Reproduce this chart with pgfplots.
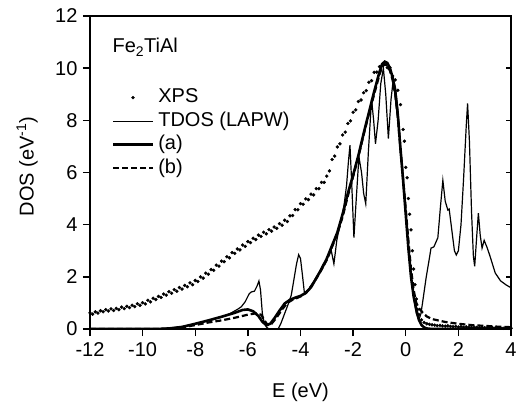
\documentclass[border=0pt]{standalone}
\usepackage{pgfplots}
\pgfplotsset{compat=1.18}
\usepackage{fontspec}
\setmainfont{Liberation Sans}
\begin{document}
\begin{tikzpicture}[font=\fontsize{20}{24}\selectfont]
\begin{axis}[
  at={(0pt,0pt)}, anchor=south west,
  width=421pt, height=313pt, scale only axis,
  xmin=-12, xmax=4, ymin=0, ymax=12,
  xtick={-12,-10,...,4}, ytick={0,2,...,12},
  xtick pos=bottom, ytick pos=left,
  tick align=outside, major tick length=7pt,
  tick style={line width=1.4pt, black},
  axis line style={line width=1.6pt},
  /pgf/number format/assume math mode=true,
  xticklabel style={yshift=-3pt},
  yticklabel style={xshift=-2pt},
  xlabel={E (eV)}, ylabel={DOS (eV\textsuperscript{-1})},
  xlabel style={at={(axis description cs:0.5,-0.218)}, anchor=base},
  ylabel style={at={(axis description cs:-0.134,0.52)}, anchor=base},
  legend image code/.code={\draw[mark repeat=2,mark phase=2,#1] plot coordinates {(0pt,0pt) (20pt,0pt) (40pt,0pt)};},
  legend style={draw=none, fill=none, at={(axis description cs:0.044,0.775)}, anchor=north west,
    nodes={inner sep=0pt, text height=14pt, text depth=4pt, anchor=west}, row sep=5.5pt,
    /tikz/every odd column/.append style={column sep=4pt}},
  legend cell align=left,
  clip=true,
]
% XPS
\addplot[only marks, mark=*, mark size=1.5pt, black] coordinates {
(-12.0,0.62)(-11.9,0.57)(-11.8,0.66)(-11.7,0.61)(-11.6,0.70)(-11.5,0.66)(-11.4,0.74)(-11.3,0.69)(-11.2,0.77)(-11.1,0.71)
(-11.0,0.79)(-10.9,0.74)(-10.8,0.84)(-10.7,0.78)(-10.6,0.87)(-10.5,0.82)(-10.4,0.91)(-10.3,0.86)(-10.2,0.97)(-10.1,0.91)
(-10.0,1.01)(-9.9,0.96)(-9.8,1.10)(-9.7,1.04)(-9.6,1.18)(-9.5,1.13)(-9.4,1.25)(-9.3,1.21)(-9.2,1.34)(-9.1,1.30)
(-9.0,1.43)(-8.9,1.37)(-8.8,1.51)(-8.7,1.45)(-8.6,1.59)(-8.5,1.53)(-8.4,1.67)(-8.3,1.62)(-8.2,1.77)(-8.1,1.70)
(-8.0,1.86)(-7.9,1.82)(-7.8,2.00)(-7.7,1.95)(-7.6,2.14)(-7.5,2.10)(-7.4,2.28)(-7.3,2.25)(-7.2,2.45)(-7.1,2.41)
(-7.0,2.60)(-6.9,2.58)(-6.8,2.77)(-6.7,2.73)(-6.6,2.93)(-6.5,2.90)(-6.4,3.07)(-6.3,3.03)(-6.2,3.22)(-6.1,3.17)
(-6.0,3.35)(-5.9,3.31)(-5.8,3.48)(-5.7,3.43)(-5.6,3.60)(-5.5,3.55)(-5.4,3.71)(-5.3,3.65)(-5.2,3.81)(-5.1,3.75)
(-5.0,3.91)(-4.9,3.86)(-4.8,4.04)(-4.7,3.98)(-4.6,4.17)(-4.5,4.12)(-4.4,4.34)(-4.3,4.35)(-4.2,4.58)(-4.1,4.57)
(-4.0,4.81)(-3.9,4.78)(-3.8,4.99)(-3.7,4.96)(-3.6,5.17)(-3.5,5.14)(-3.4,5.38)(-3.3,5.38)(-3.2,5.62)(-3.1,5.62)
(-3.0,5.86)(-2.9,6.06)(-2.8,6.50)(-2.7,6.63)(-2.6,6.98)(-2.5,7.10)(-2.4,7.44)(-2.3,7.55)(-2.2,7.88)(-2.1,7.98)
(-2.0,8.31)(-1.9,8.40)(-1.8,8.72)(-1.7,8.78)(-1.6,9.06)(-1.5,9.14)(-1.4,9.46)(-1.3,9.52)(-1.2,9.84)(-1.1,9.85)
(-1.0,10.06)(-0.9,10.10)(-0.8,10.21)(-0.7,10.02)(-0.6,10.02)(-0.5,9.70)(-0.4,9.55)(-0.3,9.15)(-0.2,8.60)(-0.1,7.65)
(-0.05,7.2)(0.0,6.20)(0.05,5.8)(0.1,5.0)(0.15,4.4)(0.2,3.8)(0.25,3.0)(0.3,2.3)(0.35,1.7)(0.4,1.15)
(0.45,0.75)(0.5,0.55)(0.6,0.35)(0.7,0.25)(0.8,0.2)(0.9,0.18)(1.0,0.16)(1.1,0.15)(1.2,0.13)(1.3,0.14)
(1.4,0.12)(1.5,0.11)(1.6,0.12)(1.7,0.10)(1.8,0.09)(1.9,0.10)(2.0,0.08)(2.1,0.09)(2.2,0.07)(2.3,0.08)
(2.4,0.07)(2.5,0.06)(2.6,0.07)(2.7,0.06)(2.8,0.05)(2.9,0.06)(3.0,0.05)(3.1,0.05)(3.2,0.04)(3.3,0.05)
(3.4,0.04)(3.5,0.04)(3.6,0.04)(3.7,0.03)(3.8,0.04)(3.9,0.03)(4.0,0.03)
};
\addlegendentry{XPS}
% TDOS (LAPW)
\addplot[black, line width=1.2pt] coordinates {
(-12,0)(-9.3,0)(-9,0.02)(-8.5,0.08)(-8,0.2)(-7.5,0.32)(-7,0.45)(-6.7,0.58)(-6.4,0.75)(-6.25,0.85)
(-6.1,1.05)(-5.95,1.35)(-5.87,1.42)(-5.75,1.45)(-5.65,1.65)(-5.58,1.84)(-5.52,1.5)(-5.45,0.6)(-5.38,0.25)(-5.3,0.08)
(-5.2,0.0)(-4.85,0.0)(-4.75,0.2)(-4.6,0.6)(-4.45,1.0)(-4.35,1.3)(-4.25,1.9)(-4.15,2.5)(-4.07,2.85)(-4.0,2.7)
(-3.93,2.1)(-3.85,1.37)(-3.75,1.45)(-3.6,1.65)(-3.45,1.9)(-3.3,2.15)(-3.15,2.45)(-3.0,2.7)(-2.85,3.1)(-2.73,2.5)
(-2.62,3.4)(-2.5,4.0)(-2.35,4.7)(-2.25,5.5)(-2.18,6.4)(-2.12,7.05)(-2.05,5.5)(-1.97,3.5)(-1.88,5.0)(-1.78,6.6)
(-1.68,6.0)(-1.6,5.2)(-1.52,4.8)(-1.42,6.8)(-1.3,8.8)(-1.22,8.0)(-1.15,7.1)(-1.05,8.0)(-0.95,9.4)(-0.85,10.0)
(-0.76,9.0)(-0.66,7.3)(-0.56,8.8)(-0.47,9.6)(-0.38,9.2)(-0.3,8.4)(-0.2,6.9)(-0.1,5.7)(0.0,4.4)(0.1,3.1)
(0.2,2.0)(0.3,1.2)(0.4,0.6)(0.5,0.35)(0.58,0.6)(0.68,1.3)(0.78,2.0)(0.88,2.6)(0.96,3.1)(1.07,3.15)
(1.22,3.5)(1.32,4.7)(1.41,5.7)(1.5,4.9)(1.6,4.56)(1.65,4.6)(1.75,3.8)(1.85,3.0)(1.92,2.84)(2.0,3.0)
(2.1,4.0)(2.2,5.8)(2.3,7.8)(2.35,8.65)(2.42,7.2)(2.5,4.5)(2.57,2.8)(2.62,2.4)(2.7,3.6)(2.76,4.44)
(2.83,3.6)(2.9,3.1)(2.98,3.4)(3.1,3.1)(3.2,2.8)(3.4,2.15)(3.6,1.85)(3.8,1.7)(4.0,1.58)
};
\addlegendentry{TDOS (LAPW)}
% (a)
\addplot[black, line width=2.6pt] coordinates {
(-12,0)(-9.5,0)(-9,0.02)(-8.5,0.08)(-8,0.2)(-7.5,0.33)(-7,0.47)(-6.5,0.62)(-6.2,0.73)(-6.0,0.75)
(-5.8,0.68)(-5.6,0.5)(-5.45,0.28)(-5.3,0.15)(-5.15,0.2)(-5.0,0.4)(-4.8,0.7)(-4.6,0.98)(-4.4,1.12)(-4.2,1.2)
(-4.0,1.27)(-3.8,1.38)(-3.6,1.6)(-3.4,1.95)(-3.2,2.3)(-3.0,2.7)(-2.8,3.2)(-2.6,3.7)(-2.4,4.4)(-2.2,5.2)
(-2.0,5.9)(-1.8,6.65)(-1.6,7.5)(-1.4,8.3)(-1.2,9.1)(-1.0,9.85)(-0.9,10.15)(-0.8,10.25)(-0.7,10.2)(-0.6,10.0)
(-0.5,9.65)(-0.4,9.1)(-0.3,8.2)(-0.2,6.9)(-0.1,5.7)(0.0,4.4)(0.1,3.1)(0.2,2.0)(0.3,1.25)(0.4,0.75)
(0.5,0.35)(0.6,0.15)(0.7,0.06)(0.8,0.02)(1.0,0)(4,0)
};
\addlegendentry{(a)}
% (b)
\addplot[black, line width=2.2pt, dash pattern=on 6pt off 3pt] coordinates {
(-12,0)(-9.5,0)(-9,0.02)(-8.5,0.06)(-8,0.15)(-7.5,0.25)(-7,0.33)(-6.5,0.43)(-6,0.55)(-5.7,0.6)
(-5.5,0.55)(-5.35,0.3)(-5.25,0.15)(-5.1,0.2)(-4.9,0.45)(-4.7,0.75)(-4.5,1.0)(-4.3,1.12)(-4.1,1.2)(-3.9,1.3)
(-3.7,1.5)(-3.5,1.78)(-3.3,2.1)(-3.0,2.65)(-2.8,3.15)(-2.6,3.65)(-2.4,4.3)(-2.2,5.1)(-2.0,5.85)(-1.8,6.6)
(-1.6,7.45)(-1.4,8.25)(-1.2,9.0)(-1.0,9.75)(-0.9,10.05)(-0.8,10.15)(-0.7,10.1)(-0.6,9.9)(-0.5,9.55)(-0.4,9.0)
(-0.3,8.1)(-0.2,6.9)(-0.1,5.75)(0.0,4.6)(0.1,3.4)(0.2,2.3)(0.3,1.5)(0.4,1.0)(0.5,0.8)(0.65,0.62)
(0.8,0.48)(1.0,0.38)(1.5,0.27)(2.0,0.2)(2.5,0.15)(3.0,0.12)(3.5,0.09)(4.0,0.07)
};
\addlegendentry{(b)}
\node[anchor=west, inner sep=0pt] at (axis cs:-11.15,10.8) {Fe\textsubscript{2}TiAl};
\end{axis}
\begin{axis}[
  at={(0pt,0pt)}, anchor=south west,
  width=421pt, height=313pt, scale only axis,
  xmin=-12, xmax=4, ymin=0, ymax=12,
  xtick=\empty, ytick={0,2,...,12}, yticklabels={},
  ytick pos=right, tick align=inside, major tick length=5pt,
  tick style={line width=1.4pt, black},
  axis line style={draw=none},
]
\end{axis}
\pgfresetboundingbox
\path[use as bounding box] (-90pt,-76pt) rectangle (430pt,329pt);
\end{tikzpicture}
\end{document}
